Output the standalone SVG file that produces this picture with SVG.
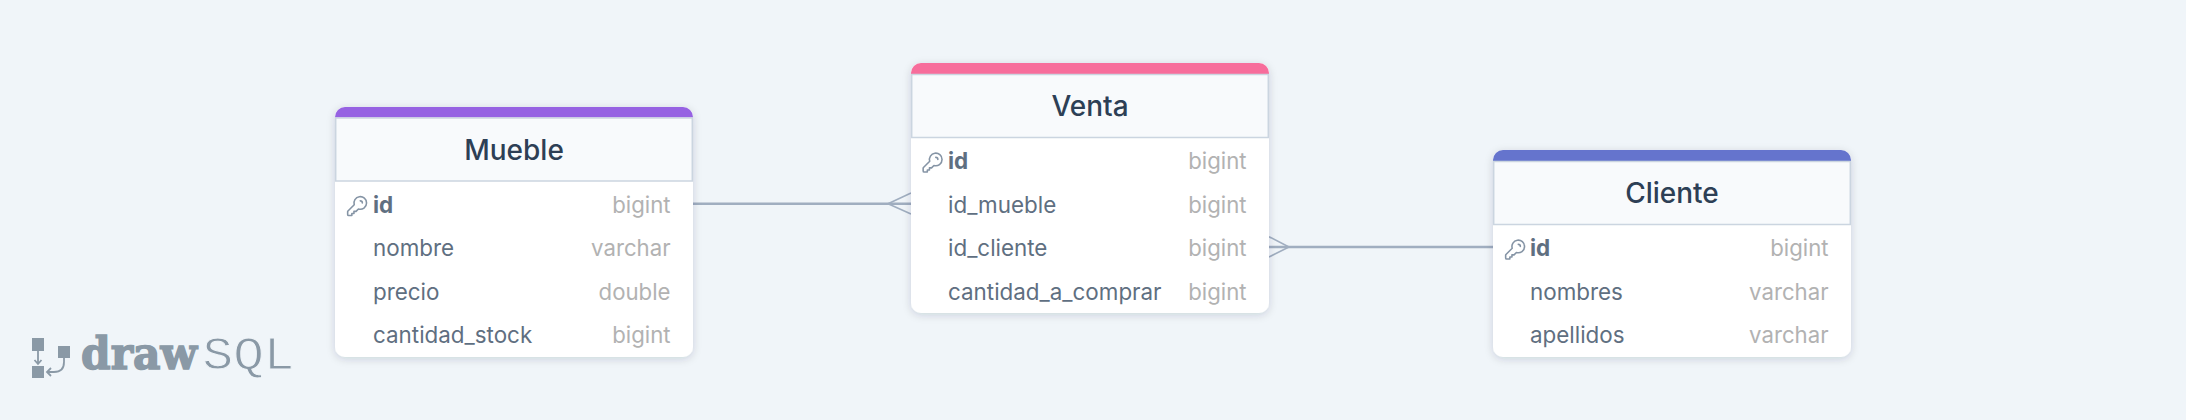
<svg xmlns="http://www.w3.org/2000/svg" width="2186" height="420" viewBox="0 0 2186 420">
<style>
text{font-family:Inter,"Liberation Sans",sans-serif}
.card{fill:#fff;filter:url(#sh)}
.head{fill:#f8fafc;stroke:#cbd5e0;stroke-width:1.5}
.title{font-size:28px;font-weight:450;fill:#2d3f55;text-anchor:middle}
.f{font-size:22.4px;fill:#5f6f81}
.pk{font-weight:700}
.t{font-size:22.2px;fill:#b2b2b2;text-anchor:end}
.line{fill:none;stroke:#a0aec0;stroke-width:2.5}
.crow{fill:none;stroke:#a0aec0;stroke-width:1.6}
.key{fill:none;stroke:#8594a5;stroke-width:1.5;stroke-linejoin:round;stroke-linecap:round}
</style>
<defs>
<filter id="sh" x="-10%" y="-10%" width="120%" height="120%"><feDropShadow dx="0" dy="2" stdDeviation="4" flood-color="#1a2b40" flood-opacity="0.16"/></filter>
<path id="k" class="key" d="M15 7a2 2 0 012 2m4 0a6 6 0 01-7.743 5.743L11 17H9v2H7v2H4a1 1 0 01-1-1v-2.586a1 1 0 01.293-.707l5.964-5.964A6 6 0 1121 9z"/>
</defs>
<rect width="2186" height="420" fill="#f0f5f9"/>
<g id="connectors">
<path class="line" d="M693 203.700H911"/>
<path class="crow" d="M911 193L888 203.700L911 214"/>
<path class="line" d="M1269 247H1493"/>
<path class="crow" d="M1269 236.700L1289 247L1269 257"/>
</g>
<g id="mueble">
<rect class="card" x="335" y="107" width="358" height="250" rx="10"/>
<path fill="#9662e2" d="M335 117.500V117a10 10 0 0 1 10-10H683a10 10 0 0 1 10 10v.5z"/>
<rect class="head" x="335.700" y="118" width="356.600" height="63"/>
<text class="title" x="514" y="160">Mueble</text>
<use href="#k" transform="translate(344.500 193.500) scale(1.05)"/>
<text class="f pk" x="373" y="212.700">id</text><text class="t" x="670.500" y="212.700">bigint</text>
<text class="f" x="373" y="256">nombre</text><text class="t" x="670.500" y="256">varchar</text>
<text class="f" x="373" y="299.500">precio</text><text class="t" x="670.500" y="299.500">double</text>
<text class="f" x="373" y="343">cantidad_stock</text><text class="t" x="670.500" y="343">bigint</text>
</g>
<g id="venta">
<rect class="card" x="911" y="63" width="358" height="250" rx="10"/>
<path fill="#f76d9b" d="M911 74V73a10 10 0 0 1 10-10H1259a10 10 0 0 1 10 10v1z"/>
<rect class="head" x="911.700" y="74.500" width="356.600" height="63"/>
<text class="title" x="1090" y="116">Venta</text>
<use href="#k" transform="translate(920 150) scale(1.05)"/>
<text class="f pk" x="948" y="169">id</text><text class="t" x="1246.500" y="169">bigint</text>
<text class="f" x="948" y="212.700">id_mueble</text><text class="t" x="1246.500" y="212.700">bigint</text>
<text class="f" x="948" y="256">id_cliente</text><text class="t" x="1246.500" y="256">bigint</text>
<text class="f" x="948" y="299.500">cantidad_a_comprar</text><text class="t" x="1246.500" y="299.500">bigint</text>
</g>
<g id="cliente">
<rect class="card" x="1493" y="150" width="358" height="207" rx="10"/>
<path fill="#6574cd" d="M1493 161V160a10 10 0 0 1 10-10H1841a10 10 0 0 1 10 10v1z"/>
<rect class="head" x="1493.700" y="161.500" width="356.600" height="63"/>
<text class="title" x="1672" y="203">Cliente</text>
<use href="#k" transform="translate(1502.500 237) scale(1.05)"/>
<text class="f pk" x="1530" y="256">id</text><text class="t" x="1828.500" y="256">bigint</text>
<text class="f" x="1530" y="299.500">nombres</text><text class="t" x="1828.500" y="299.500">varchar</text>
<text class="f" x="1530" y="343">apellidos</text><text class="t" x="1828.500" y="343">varchar</text>
</g>
<g id="logo">
<rect x="32" y="338" width="12" height="13" fill="#8a99a6"/>
<rect x="32" y="366" width="12" height="12" fill="#8a99a6"/>
<rect x="58" y="346" width="12" height="12" fill="#8a99a6"/>
<path d="M38 351V363M34.500 360L38 364L41.500 360M64 358V362Q64 372 54 372H47M51 368L47 372L51 376" fill="none" stroke="#8a99a6" stroke-width="1.800"/>
<text x="81" y="369" font-size="44" font-weight="700" fill="#8a99a6" stroke="#8a99a6" stroke-width="1.500" textLength="116" lengthAdjust="spacingAndGlyphs" style="font-family:'DejaVu Serif',serif">draw</text>
<text x="202.500" y="369" font-size="47" fill="#8a99a6" stroke="#f0f5f9" stroke-width="1" textLength="92" lengthAdjust="spacingAndGlyphs" style="font-family:'Liberation Mono',monospace">SQL</text>
</g>
</svg>
